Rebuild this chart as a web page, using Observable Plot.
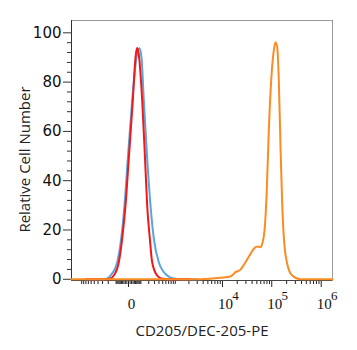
<!DOCTYPE html>
<html><head><meta charset="utf-8">
<script src="https://cdn.jsdelivr.net/npm/d3@7"></script>
<script src="https://cdn.jsdelivr.net/npm/@observablehq/plot@0.6"></script>
<style>body{margin:0;background:#fff}</style>
</head><body><div id="chart"></div>
<script>
// Series (x = fluorescence intensity, y = relative cell number)
const redX = [-800, -228, -168, -126, -73, -43.5, -19.2, 1.8, 28.3, 49.3, 62, 75.8, 114, 148, 177, 217, 257, 358, 486, 775, 2000];
const redY = [0, 0, 0.3, 1.5, 6.9, 16.6, 30, 49, 72.6, 90, 93.8, 92, 72.6, 49, 30, 16.6, 6.9, 1.5, 0.2, 0, 0];
const blueX = [-800, -281, -217, -168, -88.5, -51.8, -26.2, -4.2, 24, 57.7, 85.5, 106, 133, 177, 228, 287, 396, 646, 910, 1310, 3000];
const blueY = [0, 0, 0.3, 1.5, 6.9, 16.6, 30, 49, 72.6, 90, 93.7, 90, 72.6, 49, 30, 16.6, 6.9, 1.5, 0.3, 0, 0];
const orangeX = [-1686, 3516, 5670, 9110, 14580, 18430, 23300, 29430, 37150, 43350, 50790, 59280, 64170, 71420, 78400, 87260, 97490, 110080, 119140, 128970, 139000, 150400, 162800, 175400, 205300, 259200, 381400, 1690000];
const orangeY = [0, 0, 0.2, 0.6, 1.1, 2.9, 3.9, 6.9, 10.3, 12.4, 13.3, 13.0, 14.4, 19.8, 33.3, 60.4, 80.7, 92.9, 96.2, 94.2, 80.7, 53.6, 30.6, 17.1, 6.3, 1.5, 0, 0];

const yMajor = [0, 20, 40, 60, 80, 100];
const yMinor = [4, 8, 12, 16, 24, 28, 32, 36, 44, 48, 52, 56, 64, 68, 72, 76, 84, 88, 92, 96];
const xMajor = [0, 1e4, 1e5, 1e6];
const xMajorBase = ["0", "10", "10", "10"];
const xMajorExp = ["", "4", "5", "6"];
const minorMultipliers = [1, 2, 3, 4, 5, 6, 7, 8, 9];
const minorDecades = [-1000, -100, -10, 10, 100, 1000, 10000, 100000];
const xTitle = "CD205/DEC-205-PE";
const yTitle = "Relative Cell Number";

const xDomain = [-1686, 1.69e6];
const xMinor = minorDecades.flatMap(d => minorMultipliers.map(m => m * d))
  .filter(v => v > xDomain[0] && !xMajor.includes(v));

const zip = (xs, ys) => xs.map((x, i) => ({x, y: ys[i]}));
const red = zip(redX, redY), blue = zip(blueX, blueY), orange = zip(orangeX, orangeY);

const chart = Plot.plot({
  width: 357, height: 350,
  marginLeft: 71, marginRight: 25, marginTop: 20, marginBottom: 70,
  x: {type: "symlog", constant: 128, domain: xDomain},
  y: {domain: [-0.5, 105]},
  style: {background: "#fff", color: "#111"},
  marks: [
    Plot.frame({stroke: "#9a9a9a"}),
    Plot.axisY(yMinor, {tickSize: 4, tickFormat: () => "", label: null, stroke: "#333"}),
    Plot.axisY(yMajor, {tickSize: 8, tickPadding: 2, label: null, fontSize: 15, fontFamily: "DejaVu Sans", stroke: "#333", fill: "#111"}),
    Plot.axisX(xMinor, {tickSize: 4, tickFormat: () => "", label: null, stroke: "#222"}),
    Plot.axisX(xMajor, {tickSize: 7, tickFormat: () => "", label: null, stroke: "#222"}),
    Plot.ruleX([xDomain[0]], {stroke: "#333"}),
    Plot.ruleY([-0.5], {stroke: "#444"}),
    Plot.line(blue, {x: "x", y: "y", stroke: "#5aa5dc", strokeWidth: 2, curve: "monotone-x"}),
    Plot.line(red, {x: "x", y: "y", stroke: "#f21818", strokeWidth: 2, curve: "monotone-x"}),
    Plot.line(orange, {x: "x", y: "y", stroke: "#fb8b22", strokeWidth: 2, curve: "monotone-x"}),
    Plot.text(xMajor, {x: d => d, text: (d, i) => xMajorBase[i], frameAnchor: "bottom", lineAnchor: "middle", textAnchor: "middle", dy: 24, dx: 3, fontFamily: "Liberation Serif", fontSize: 15, fill: "#111"}),
    Plot.text(xMajor, {x: d => d, text: (d, i) => xMajorExp[i], frameAnchor: "bottom", lineAnchor: "middle", textAnchor: "middle", dy: 15, dx: 13, fontFamily: "Liberation Serif", fontSize: 13, fill: "#111"}),
    Plot.text([yTitle], {frameAnchor: "left", rotate: -90, textAnchor: "middle", lineAnchor: "middle", dx: -46, dy: 9, fontSize: 15, fontFamily: "Open Sans", fill: "#222"}),
    Plot.text([xTitle], {frameAnchor: "bottom", textAnchor: "middle", lineAnchor: "middle", dy: 51, fontSize: 15, fontFamily: "Open Sans", fill: "#222"})
  ]
});
document.getElementById("chart").appendChild(chart);
</script>
</body></html>
